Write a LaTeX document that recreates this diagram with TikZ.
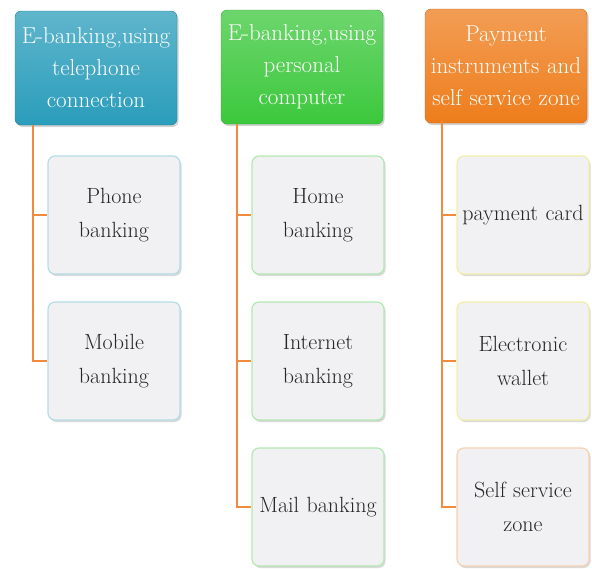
\documentclass[tikz,border=0pt]{standalone}
\usepackage{tikz}
\usetikzlibrary{shadows}

\definecolor{hdblue}{HTML}{2A9DBB}
\definecolor{hdgreen}{HTML}{3CC83C}
\definecolor{hdorange}{HTML}{EE7D1C}
\definecolor{linkorange}{HTML}{F08A3C}
\definecolor{boxfill}{HTML}{F1F1F4}

\tikzset{
  header/.style={rounded corners=6pt, minimum width=160pt, minimum height=114pt,
    text width=160pt, inner xsep=1pt, align=center, text=white, font=\fontsize{23}{32}\selectfont,
    drop shadow={shadow xshift=1.5pt, shadow yshift=-2pt, opacity=0.35}},
  child/.style={rounded corners=7pt, fill=boxfill, line width=1.2pt,
    minimum width=132pt, minimum height=118pt, text width=130pt, inner xsep=1pt, align=center,
    font=\fontsize{22}{34}\selectfont, text=black!85,
    drop shadow={shadow xshift=1.5pt, shadow yshift=-2pt, opacity=0.3}},
  link/.style={draw=linkorange, line width=2pt}
}

\begin{document}
\begin{tikzpicture}[x=1pt, y=-1pt]
    \useasboundingbox (0,0) rectangle (592,568);
    % headers
    \node[header, top color=hdblue!75!white, bottom color=hdblue, draw=hdblue!80!black] (tel) at (96,68) {E-banking,using\\telephone\\connection};
    \node[header, top color=hdgreen!75!white, bottom color=hdgreen, draw=hdgreen!85!black] (pc) at (302,67) {E-banking,using\\personal\\computer};
    \node[header, top color=hdorange!75!white, bottom color=hdorange, draw=hdorange!85!black] (pay) at (506,66) {Payment\\instruments and\\self service zone};
    % first column
    \node[child, draw=hdblue!35!white] (phone) at (114,215) {Phone\\banking};
    \node[child, draw=hdblue!35!white] (mobile) at (114,361) {Mobile\\banking};
    % second column
    \node[child, draw=hdgreen!40!white] (home) at (318,215) {Home\\banking};
    \node[child, draw=hdgreen!40!white] (inet) at (318,361) {Internet\\banking};
    \node[child, draw=hdgreen!40!white] (mail) at (318,507) {Mail banking};
    % third column
    \node[child, draw=yellow!60!olive!30!white] (card) at (523,215) {payment card};
    \node[child, draw=yellow!60!olive!30!white] (wallet) at (523,361) {Electronic\\wallet};
    \node[child, draw=hdorange!35!white] (zone) at (523,507) {Self service\\zone};
    % trunks
    \coordinate (t1) at (33,125);
    \coordinate (t2) at (237,124);
    \coordinate (t3) at (442,121);
    \draw[link] (t1) |- (phone.west);
    \draw[link] (t1) |- (mobile.west);
    \draw[link] (t2) |- (home.west);
    \draw[link] (t2) |- (inet.west);
    \draw[link] (t2) |- (mail.west);
    \draw[link] (t3) |- (card.west);
    \draw[link] (t3) |- (wallet.west);
    \draw[link] (t3) |- (zone.west);
\end{tikzpicture}
\end{document}
